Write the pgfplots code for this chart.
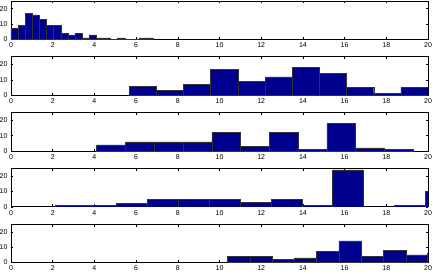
\documentclass[border=0pt]{standalone}
\usepackage{pgfplots}
\pgfplotsset{compat=1.18}
\usepackage{fontspec}
\setmainfont{Liberation Sans}
\definecolor{barblue}{rgb}{0,0,0.5625}
\pgfplotsset{hst/.style={
  scale only axis, width=417pt, height=38.5pt,
  xmin=0, xmax=20, ymin=0, ymax=25,
  xtick={0,2,...,20}, ytick={0,10,20},
  tick align=inside, major tick length=2.5pt,
  ticklabel style={font=\fontsize{7}{8}\selectfont},
  /pgf/number format/assume math mode=true,
  axis line style={line width=0.7pt, black},
  tick style={line width=0.4pt, black},
  anchor=south west,
}}
\begin{document}
\begin{tikzpicture}
\path[use as bounding box] (-11pt,-233.5pt) rectangle (422pt,39.5pt);
\begin{axis}[hst, at={(0pt,0pt)}]
\addplot[ybar interval, fill=barblue, draw=black!80, line width=0.45pt] coordinates {
(0,7) (0.341,9) (0.682,17) (1.023,16) (1.364,13) (1.705,9) (2.046,9) (2.387,4) (2.728,3) (3.069,4)
(3.41,1) (3.751,3) (4.092,1) (4.433,1) (4.774,0) (5.115,1) (5.456,0) (5.797,0) (6.138,1) (6.479,1) (6.82,1)};
\end{axis}
\begin{axis}[hst, at={(0pt,-55.75pt)}]
\addplot[ybar interval, fill=barblue, draw=black!80, line width=0.45pt] coordinates {
(5.67,6) (6.973,3) (8.276,7) (9.579,17) (10.882,9) (12.185,12) (13.488,18) (14.791,14) (16.094,5) (17.397,1) (18.7,5) (20.0,5)};
\end{axis}
\begin{axis}[hst, at={(0pt,-111.5pt)}]
\addplot[ybar interval, fill=barblue, draw=black!80, line width=0.45pt] coordinates {
(4.11,4) (5.49,6) (6.87,6) (8.25,6) (9.63,12) (11.01,3) (12.39,12) (13.77,1) (15.15,18) (16.53,2) (17.91,1) (19.29,1)};
\end{axis}
\begin{axis}[hst, at={(0pt,-167.25pt)}]
\addplot[ybar interval, fill=barblue, draw=black!80, line width=0.45pt] coordinates {
(2.11,1) (3.59,1) (5.07,2) (6.55,5) (8.03,5) (9.51,5) (10.99,3) (12.47,5) (13.95,1) (15.43,24) (16.91,0) (18.39,1) (19.87,10) (21.35,10)};
\end{axis}
\begin{axis}[hst, at={(0pt,-223pt)}]
\addplot[ybar interval, fill=barblue, draw=black!80, line width=0.45pt] coordinates {
(10.38,4) (11.45,4) (12.52,2) (13.59,3) (14.66,7) (15.73,14) (16.80,4) (17.87,8) (18.94,5) (19.98,6) (21.0,6)};
\end{axis}
\end{tikzpicture}
\end{document}
